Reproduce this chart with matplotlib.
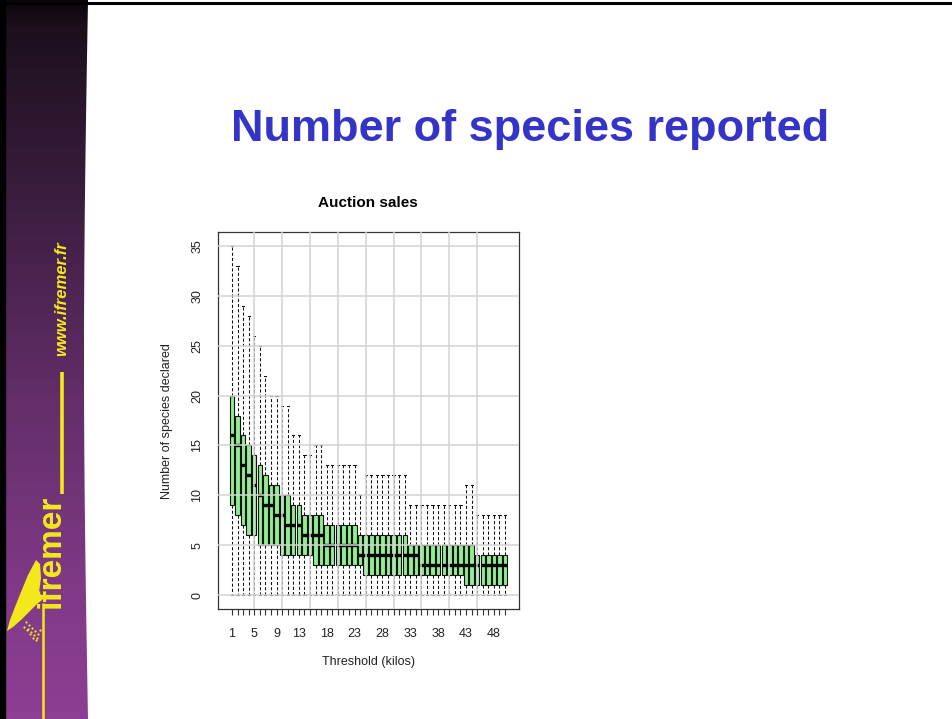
import numpy as np
import matplotlib
matplotlib.use("Agg")
import matplotlib.pyplot as plt
from matplotlib.patches import Polygon
from matplotlib.colors import to_rgb

plt.rcParams["font.family"] = ["Liberation Sans", "DejaVu Sans"]

# ==============================
# data
# ==============================
thresholds = list(range(1, 51))
tick_labels_shown = [1, 5, 9, 13, 18, 23, 28, 33, 38, 43, 48]

whisk_lo = [0] * 50
q1 = [9, 8, 7, 6, 6, 5, 5, 5, 5, 4,
      4, 4, 4, 4, 4, 3, 3, 3, 3, 3,
      3, 3, 3, 3, 2, 2, 2, 2, 2, 2,
      2, 2, 2, 2, 2, 2, 2, 2, 2, 2,
      2, 2, 1, 1, 1, 1, 1, 1, 1, 1]
med = [16, 15, 13, 12, 11, 10, 9, 9, 8, 8,
       7, 7, 7, 6, 6, 6, 6, 5, 5, 5,
       5, 5, 5, 4, 4, 4, 4, 4, 4, 4,
       4, 4, 4, 4, 3, 3, 3, 3, 3, 3,
       3, 3, 3, 3, 3, 3, 3, 3, 3, 3]
q3 = [20, 18, 16, 15, 14, 13, 12, 11, 11, 10,
      10, 9, 9, 8, 8, 8, 8, 7, 7, 7,
      7, 7, 7, 6, 6, 6, 6, 6, 6, 6,
      6, 6, 5, 5, 5, 5, 5, 5, 5, 5,
      5, 5, 5, 5, 4, 4, 4, 4, 4, 4]
whisk_hi = [35, 33, 29, 28, 26, 25, 22, 20, 20, 19,
            19, 16, 16, 14, 14, 15, 15, 13, 13, 13,
            13, 13, 13, 10, 12, 12, 12, 12, 12, 12,
            12, 12, 9, 9, 9, 9, 9, 9, 9, 9,
            9, 9, 11, 11, 8, 8, 8, 8, 8, 8]

W, H = 952, 719
YELLOW = "#f4e81c"
BLUE = "#3434c8"

fig = plt.figure(figsize=(W / 100, H / 100), dpi=100)
fig.patch.set_facecolor("white")

# ==============================
# slide background (pixel coords)
# ==============================
bg = fig.add_axes([0, 0, 1, 1])
bg.set_xlim(0, W)
bg.set_ylim(H, 0)
bg.axis("off")

stops_y = [0, 28, 200, 400, 600, 719]
stops_c = ["#0c060c", "#1c101c", "#3c1d40", "#632e69", "#823a88", "#8d3f93"]
rgb = np.array([to_rgb(c) for c in stops_c])
ys = np.arange(H)
grad = np.stack([np.interp(ys, stops_y, rgb[:, k]) for k in range(3)], axis=-1)
grad = grad[:, None, :]
im = bg.imshow(grad, extent=[0, 92, H, 0], aspect="auto", zorder=1)
yy = np.linspace(0, H, 60)
edge_x = 88 - 4 * np.sin(np.pi * yy / H)
clip = Polygon(list(zip(edge_x, yy)) + [(0, H), (0, 0)], closed=True,
               transform=bg.transData, facecolor="none", edgecolor="none")
bg.add_patch(clip)
im.set_clip_path(clip)

bg.fill_between([0, 4.5], 0, H, color="black", zorder=2)
bg.plot([0, W], [2.5, 2.5], color="black", lw=2.2, zorder=3)

# ifremer logo pieces
bg.text(62, 299, "www.ifremer.fr", rotation=90, color=YELLOW, fontsize=12,
        fontweight="bold", fontstyle="italic", ha="center", va="center", zorder=4)
bg.plot([61.5, 61.5], [372, 494], color=YELLOW, lw=2.6, solid_capstyle="butt", zorder=4)
bg.text(51, 551, "ifremer", rotation=90, color=YELLOW, fontsize=24,
        fontweight="bold", ha="center", va="center", zorder=4)
bg.plot([43, 43], [603, H], color=YELLOW, lw=1.8, solid_capstyle="butt", zorder=4)
bird = [(36, 560), (40, 564), (41, 578), (39, 592), (42, 600), (37, 604),
        (30, 611), (22, 619), (13, 627), (7, 631), (10, 620), (15, 607),
        (21, 592), (28, 575)]
bg.add_patch(Polygon(bird, closed=True, facecolor=YELLOW, edgecolor="none", zorder=4))
dots_x = [26, 29, 32, 35, 38, 28, 31, 34, 37, 24, 27, 30, 33, 36, 40]
dots_y = [622, 625, 628, 631, 634, 629, 632, 635, 638, 627, 630, 634, 638, 640, 630]
bg.scatter(dots_x, dots_y, s=2.5, color=YELLOW, linewidths=0, zorder=4)

# slide title
fig.text(530 / W, 1 - 129 / H, "Number of species reported", color=BLUE,
         fontsize=32.5, fontweight="bold", ha="center", va="center")

# ==============================
# boxplot
# ==============================
L, R, T, B = 218, 519, 232, 609
ax = fig.add_axes([L / W, 1 - B / H, (R - L) / W, (B - T) / H])

stats = []
for i in range(len(thresholds)):
    stats.append(dict(med=med[i], q1=q1[i], q3=q3[i],
                      whislo=whisk_lo[i], whishi=whisk_hi[i], fliers=[]))

ax.bxp(stats, positions=thresholds, widths=0.8, capwidths=0.4,
       patch_artist=True, showfliers=False,
       boxprops=dict(facecolor="#90ee90", edgecolor="#111111", linewidth=0.8),
       whiskerprops=dict(color="#111111", linestyle=(0, (3, 2)), linewidth=0.75),
       capprops=dict(color="#111111", linewidth=0.75),
       medianprops=dict(color="black", linewidth=2.4, solid_capstyle="butt"))

ax.set_xlim(-1.5, 52.5)
ax.set_ylim(-1.4, 36.4)

for v in range(5, 50, 5):
    ax.axvline(v, color="#d3d3d3", lw=1.1, zorder=6)
for v in range(0, 40, 5):
    ax.axhline(v, color="#d3d3d3", lw=1.1, zorder=6)

ax.set_xticks(thresholds)
ax.set_xticklabels([str(t) if t in tick_labels_shown else "" for t in thresholds])
ax.set_yticks(range(0, 40, 5))
ax.set_yticklabels([str(v) for v in range(0, 40, 5)], rotation=90, va="center")
ax.tick_params(axis="x", direction="out", length=4.5, width=0.8, color="#333333",
               labelsize=9, pad=9, labelcolor="#222222")
ax.tick_params(axis="y", length=0, labelsize=9, pad=10.5, labelcolor="#222222")
for s in ax.spines.values():
    s.set_color("#333333")
    s.set_linewidth(0.9)

fig.text(368 / W, 1 - 203 / H, "Auction sales", fontsize=11, fontweight="bold",
         ha="center", va="center")
fig.text(368 / W, 1 - 662 / H, "Threshold (kilos)", fontsize=9,
         ha="center", va="center", color="#222222")
fig.text(167 / W, 1 - 421 / H, "Number of species declared", fontsize=9,
         rotation=90, ha="center", va="center", color="#222222")

fig.savefig("out.png", dpi=100)
